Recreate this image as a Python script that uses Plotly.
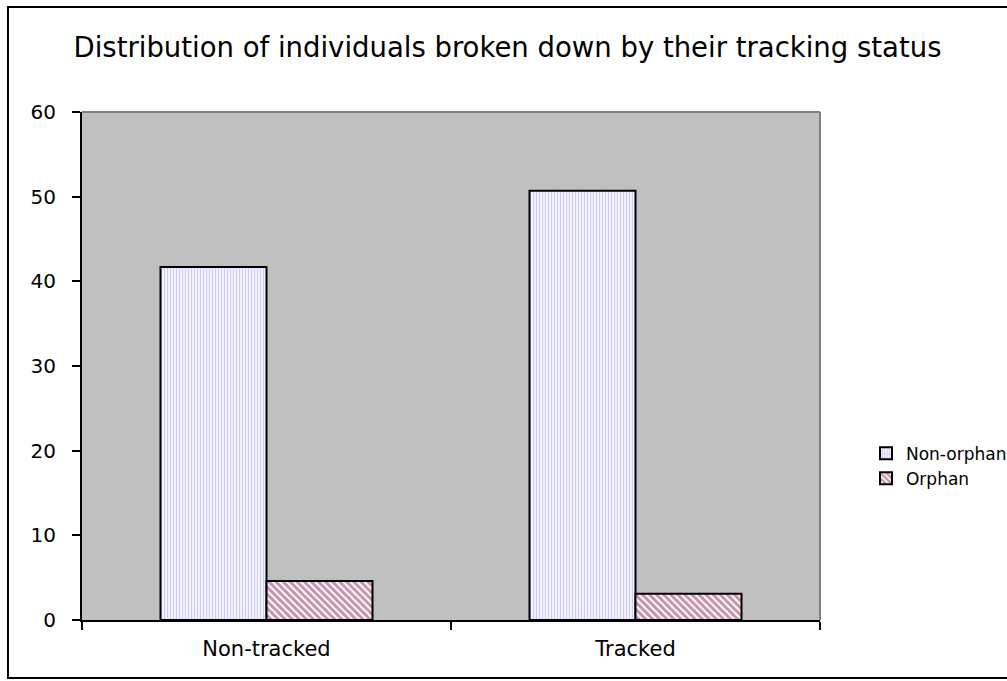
import plotly.graph_objects as go

# Tracking status categories and the two population groups
categories = ["Non-tracked", "Tracked"]
non_orphan = [41.7, 50.7]
orphan = [4.6, 3.1]
y_ticks = [0, 10, 20, 30, 40, 50, 60]

FONT = "DejaVu Sans"

fig = go.Figure()
fig.add_trace(go.Bar(
    name="Non-orphan", x=categories, y=non_orphan,
    marker=dict(
        color="white",
        line=dict(color="black", width=2),
        pattern=dict(shape="|", fgcolor="#9999FF", bgcolor="white",
                     size=3, solidity=0.5, fillmode="overlay"),
    ),
))
fig.add_trace(go.Bar(
    name="Orphan", x=categories, y=orphan,
    marker=dict(
        color="white",
        line=dict(color="black", width=2),
        pattern=dict(shape="\\", fgcolor="#8A2A5C", bgcolor="white",
                     size=5, solidity=0.6, fillmode="overlay"),
    ),
))

# Plot-area frame: grey on top/right, outer chart border in black
shapes = [
    dict(type="line", xref="paper", yref="paper", x0=0, x1=1, y0=1, y1=1,
         line=dict(color="#808080", width=2), layer="above"),
    dict(type="line", xref="paper", yref="paper", x0=1, x1=1, y0=0, y1=1,
         line=dict(color="#808080", width=2), layer="above"),
    dict(type="rect", xref="paper", yref="paper",
         x0=-0.1003, x1=1.4, y0=-0.1142, y1=1.2067,
         line=dict(color="black", width=2), fillcolor="rgba(0,0,0,0)",
         layer="below"),
]

fig.update_layout(
    width=1007, height=681,
    margin=dict(l=82, r=187, t=112, b=61, autoexpand=False),
    paper_bgcolor="white",
    plot_bgcolor="#C0C0C0",
    barmode="group",
    bargap=0.4255,
    bargroupgap=0,
    title=dict(
        text="Distribution of individuals broken down by their tracking status",
        x=(507.5) / 1007, xanchor="center",
        y=1 - 47 / 681, yanchor="middle",
        font=dict(family=FONT, size=27.5, color="black"),
    ),
    legend=dict(
        x=1.0623, xanchor="left", y=0.303, yanchor="middle",
        font=dict(family=FONT, size=17, color="black"),
        bgcolor="rgba(0,0,0,0)", borderwidth=0,
        traceorder="normal",
    ),
    shapes=shapes,
    showlegend=True,
)

fig.update_xaxes(
    range=[-0.5, 1.5],
    showline=True, linecolor="black", linewidth=2,
    ticks="outside", tickson="boundaries", ticklen=8, tickwidth=2,
    tickcolor="black",
    tickfont=dict(family=FONT, size=21, color="black"),
    ticklabelstandoff=9,
    showgrid=False, zeroline=False,
)
fig.update_yaxes(
    range=[0, 60],
    tickvals=y_ticks,
    showline=True, linecolor="black", linewidth=2,
    ticks="outside", ticklen=8, tickwidth=2, tickcolor="black",
    tickfont=dict(family=FONT, size=20, color="black"),
    ticklabelstandoff=12,
    showgrid=False, zeroline=False,
)

fig.write_html("out.html")
